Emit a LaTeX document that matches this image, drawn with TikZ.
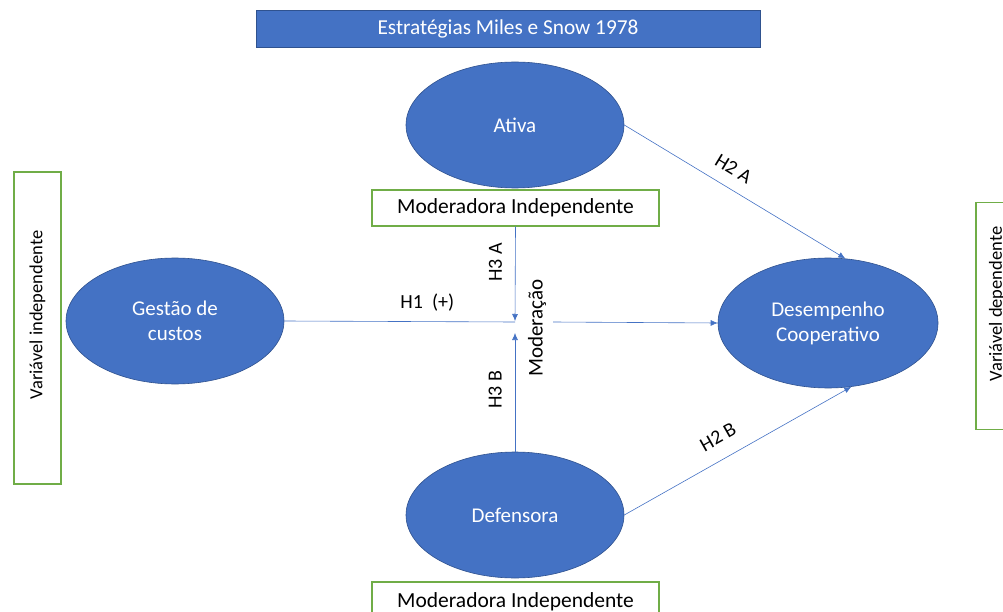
\documentclass[tikz,border=0pt]{standalone}
\usepackage{fontspec}
\setmainfont{Carlito}
\usetikzlibrary{shapes.geometric,arrows.meta}

\definecolor{accblue}{HTML}{4472C4}
\definecolor{accedge}{HTML}{2F528F}
\definecolor{accgreen}{HTML}{70AD47}

\tikzset{
    oval/.style={ellipse,fill=accblue,draw=accedge,line width=.6pt,
        minimum width=218pt,minimum height=126pt,inner sep=0pt,
        text=white,align=center,font=\fontsize{21}{25}\selectfont},
    greenbox/.style={rectangle,draw=accgreen,line width=1.2pt,fill=white,
        inner sep=0pt,font=\fontsize{21.5}{25}\selectfont},
    sidetext/.style={rotate=90,inner sep=0pt,font=\fontsize{18.5}{22}\selectfont},
    link/.style={draw=accblue,line width=.6pt},
    hlabel/.style={font=\fontsize{20}{23}\selectfont,inner sep=1pt}
}

\begin{document}
\begin{tikzpicture}[x=1pt,y=-1pt,>={Latex[length=7pt,width=6pt]}]
    \useasboundingbox (0,0) rectangle (1003,612);

    % title bar
    \node [rectangle,fill=accblue,draw=accedge,line width=.6pt,
        minimum width=504pt,minimum height=37pt,inner sep=0pt,
        text=white,font=\fontsize{21.3}{25}\selectfont] (title) at (508,28.5)
        {Estratégias Miles e Snow 1978};

    % constructs
    \node [oval] (ativa) at (515,125) {Ativa};
    \node [oval] (gestao) at (175,321) {Gestão de\\custos};
    \node [oval,minimum width=220pt,minimum height=130pt] (desemp) at (828,323)
        {Desempenho\\Cooperativo};
    \node [oval] (defens) at (515,515) {Defensora};

    % moderator / variable boxes
    \node [greenbox,minimum width=287pt,minimum height=36pt] (modA) at (515.5,208)
        {Moderadora Independente};
    \node [greenbox,minimum width=287pt,minimum height=40pt] (modB) at (515.5,602)
        {Moderadora Independente};
    \node [greenbox,minimum width=47pt,minimum height=312pt] (indep) at (37.5,328) {};
    \node [sidetext] (indeptxt) at (37.5,315) {Variável independente};
    \node [greenbox,minimum width=47pt,minimum height=227pt] (dep) at (999.5,316) {};
    \node [sidetext] (deptxt) at (997,304) {Variável dependente};

    % junction points
    \coordinate (jmid) at (515,322);
    \coordinate (jtop) at (515,321);
    \coordinate (jbot) at (515,333);
    \coordinate (jright) at (553,322);

    % paths
    \draw [link] (gestao.east) -- (jmid)
        node [hlabel,pos=.62,above=9pt] (h1) {H1\ \ (+)};
    \draw [link,->] (modA.south) -- (jtop)
        node [hlabel,pos=.38,rotate=90,above=12pt] (h3a) {H3 A};
    \draw [link,->] (defens.north) -- (jbot)
        node [hlabel,pos=.52,rotate=90,above=12pt] (h3b) {H3 B};
    \draw [link,->] (jright) -- (desemp.west);
    \node [hlabel,rotate=90,font=\fontsize{21}{25}\selectfont] (moder) at (537,328) {Moderação};
    \draw [link,->] (ativa.east) -- (desemp.75)
        node [hlabel,pos=.45,sloped,above=11pt] (h2a) {H2 A};
    \draw [link,->] (defens.east) -- (desemp.-70)
        node [hlabel,pos=.46,sloped,above=14pt] (h2b) {H2 B};
\end{tikzpicture}
\end{document}
